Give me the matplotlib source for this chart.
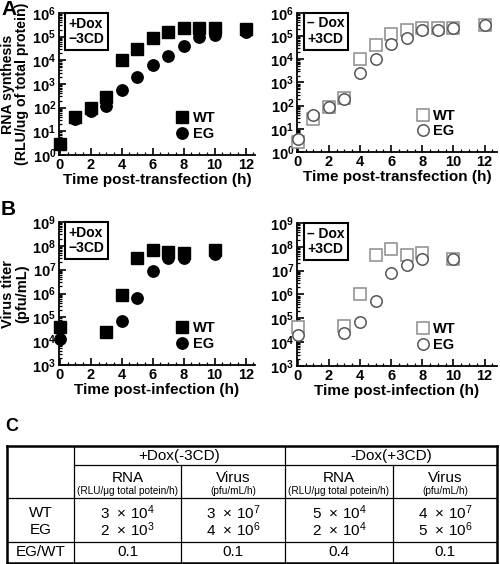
import numpy as np
import matplotlib
matplotlib.use("Agg")
import matplotlib.pyplot as plt
from matplotlib.ticker import MultipleLocator, LogLocator, FuncFormatter, NullFormatter

plt.rcParams['font.family'] = ['Liberation Sans', 'DejaVu Sans']
plt.rcParams['mathtext.default'] = 'regular'

# ---- data ----
rna_t = [0, 1, 2, 3, 4, 5, 6, 7, 8, 9, 10, 12]
rna_wt_dox = [2.8, 42, 93, 290, 1.0e4, 2.9e4, 9.0e4, 1.5e5, 2.4e5, 2.4e5, 2.3e5, 2.2e5]
rna_eg_dox = [2.8, 33, 75, 118, 560, 2.0e3, 6.3e3, 1.6e4, 4.2e4, 9.3e4, 1.2e5, 1.6e5]
rna_wt_nodox = [2.6, 27, 85, 205, 1.0e4, 4.0e4, 1.26e5, 1.9e5, 2.3e5, 2.3e5, 2.3e5, 3.1e5]
rna_eg_nodox = [3.6, 40, 85, 186, 2.7e3, 1.07e4, 4.7e4, 8.5e4, 1.9e5, 1.9e5, 2.3e5, 3.1e5]

vir_t = [0, 3, 4, 5, 6, 7, 8, 10]
vir_wt_dox = [3.8e4, 2.4e4, 8.7e5, 3.2e7, 6.6e7, 5.6e7, 5.0e7, 6.6e7]
vir_eg_dox = [1.25e4, None, 6.8e4, 6.3e5, 9.0e6, 3.0e7, 3.2e7, 4.5e7]
vir_wt_nodox = [4.5e4, 5.0e4, 1.0e6, 4.4e7, 8.0e7, 4.6e7, 5.6e7, 3.2e7]
vir_eg_nodox = [2.0e4, 2.4e4, 6.8e4, 5.5e5, 8.3e6, 1.8e7, 3.0e7, 3.0e7]

cond_dox = "+Dox\n\u22123CD"
cond_nodox = "\u2013 Dox\n+3CD"

tbl_groups = ["+Dox(-3CD)", "-Dox(+3CD)"]
tbl_cols = [("RNA", "(RLU/\u03bcg total potein/h)"), ("Virus", "(pfu/mL/h)"),
            ("RNA", "(RLU/\u03bcg total potein/h)"), ("Virus", "(pfu/mL/h)")]
tbl_rows = ["WT", "EG"]
tbl_mant = [[3, 3, 5, 4], [2, 4, 2, 5]]
tbl_exp = [[4, 7, 4, 7], [3, 6, 4, 6]]
tbl_ratio = ["0.1", "0.1", "0.4", "0.1"]

W, H = 500, 564
fig = plt.figure(figsize=(5, 5.64), dpi=100)


def px_axes(l, r, t, b):
    return fig.add_axes([l / W, 1 - b / H, (r - l) / W, (b - t) / H])


def style(ax, ylo, yhi, xmax, xlabel):
    ax.set_yscale('log')
    ax.set_ylim(ylo, yhi)
    ax.set_xlim(-0.05, xmax)
    for s in ('top', 'right'):
        ax.spines[s].set_visible(False)
    for s in ('left', 'bottom'):
        ax.spines[s].set_linewidth(1.3)
    ax.xaxis.set_major_locator(MultipleLocator(2))
    ax.xaxis.set_minor_locator(MultipleLocator(0.5))
    ax.yaxis.set_major_locator(LogLocator(base=10, numticks=20))
    ax.yaxis.set_minor_locator(LogLocator(base=10, subs=np.arange(2, 10), numticks=20))
    ax.yaxis.set_minor_formatter(NullFormatter())
    ax.yaxis.set_major_formatter(FuncFormatter(lambda v, p: r'$10^{%d}$' % round(np.log10(v))))
    ax.tick_params(which='major', direction='in', length=5, width=1.2, labelsize=10.5, pad=2)
    ax.tick_params(which='minor', direction='in', length=2.5, width=0.9)
    for lb in ax.get_xticklabels() + ax.get_yticklabels():
        lb.set_fontweight('bold')
    ax.set_xlabel(xlabel, fontsize=11, fontweight='bold', labelpad=1)


def cond_box(ax, txt):
    ax.text(0.05, 0.975, txt, transform=ax.transAxes, ha='left', va='top',
            fontsize=10, fontweight='bold', linespacing=1.15,
            bbox=dict(boxstyle='square,pad=0.25', fc='white', ec='black', lw=1.5))


def clean(t, y):
    pts = [(a, b) for a, b in zip(t, y) if b is not None]
    return [p[0] for p in pts], [p[1] for p in pts]


def filled(ax, t, wt, eg):
    ax.plot(*clean(t, wt), 's', ms=8.6, color='black', clip_on=False, label='WT', zorder=3)
    ax.plot(*clean(t, eg), 'o', ms=8.2, color='black', clip_on=False, label='EG', zorder=4)


def hollow(ax, t, wt, eg):
    ax.plot(*clean(t, wt), 's', ms=8.6, mfc='white', mec='#8c8c8c', mew=1.1,
            clip_on=False, label='WT', zorder=3)
    ax.plot(*clean(t, eg), 'o', ms=8.2, mfc='white', mec='#555555', mew=1.1,
            clip_on=False, label='EG', zorder=4)


def legend(ax, x, y):
    ax.legend(loc='lower left', bbox_to_anchor=(x, y), frameon=False,
              prop={'weight': 'bold', 'size': 10.5}, handlelength=0.8,
              handletextpad=0.3, labelspacing=0.1, borderpad=0, borderaxespad=0)


# ---- panel A ----
axA1 = px_axes(59, 255, 13, 155)
filled(axA1, rna_t, rna_wt_dox, rna_eg_dox)
style(axA1, 1, 1e6, 12.6, 'Time post-transfection (h)')
cond_box(axA1, cond_dox)
legend(axA1, 0.6, 0.1)
axA1.set_ylabel('RNA synthesis\n(RLU/ug of total protein)', fontsize=10.2,
                fontweight='bold', linespacing=1.0, labelpad=2)

axA2 = px_axes(297, 497, 13, 152)
hollow(axA2, rna_t, rna_wt_nodox, rna_eg_nodox)
style(axA2, 1, 1e6, 12.8, 'Time post-transfection (h)')
cond_box(axA2, cond_nodox)
legend(axA2, 0.6, 0.1)

# ---- panel B ----
axB1 = px_axes(59, 255, 222, 365)
filled(axB1, vir_t, vir_wt_dox, vir_eg_dox)
style(axB1, 1e3, 1e9, 12.6, 'Time post-infection (h)')
cond_box(axB1, cond_dox)
legend(axB1, 0.6, 0.1)
axB1.set_ylabel('Virus titer\n(pfu/mL)', fontsize=10.5, fontweight='bold',
                linespacing=1.0, labelpad=2)

axB2 = px_axes(297, 497, 223, 366)
hollow(axB2, vir_t, vir_wt_nodox, vir_eg_nodox)
style(axB2, 1e3, 1e9, 12.8, 'Time post-infection (h)')
cond_box(axB2, cond_nodox)
legend(axB2, 0.6, 0.1)

# ---- panel letters + table (C) drawn on a pixel-space overlay ----
ov = fig.add_axes([0, 0, 1, 1], zorder=-1)
ov.set_xlim(0, W)
ov.set_ylim(H, 0)
ov.axis('off')
for letter, (lx, ly) in zip("ABC", [(1, 0), (1, 200), (5, 418)]):
    ov.text(lx, ly, letter, fontsize=15 if letter != 'C' else 13,
            fontweight='bold', ha='left', va='top')

xs = [7, 74, 181, 285, 393, 497]
ys = [445.7, 465, 498, 541.7, 562.7]
lw = 0.9
ov.plot([xs[0], xs[-1]], [ys[0], ys[0]], color='k', lw=1.8)
ov.plot([xs[0], xs[-1]], [ys[-1], ys[-1]], color='k', lw=1.8)
ov.plot([xs[1], xs[-1]], [ys[1], ys[1]], color='k', lw=lw)
for yy in (ys[2], ys[3]):
    ov.plot([xs[0], xs[-1]], [yy, yy], color='k', lw=lw)
ov.plot([xs[0], xs[0]], [ys[0], ys[-1]], color='k', lw=1.8)
ov.plot([xs[-1], xs[-1]], [ys[0], ys[-1]], color='k', lw=1.8)
for xx in (xs[1], xs[3]):
    ov.plot([xx, xx], [ys[0], ys[-1]], color='k', lw=lw)
for xx in (xs[2], xs[4]):
    ov.plot([xx, xx], [ys[1], ys[-1]], color='k', lw=lw)

fs = 11
for g, name in enumerate(tbl_groups):
    ov.text((xs[1 + 2 * g] + xs[3 + 2 * g]) / 2, (ys[0] + ys[1]) / 2 + 0.5, name,
            ha='center', va='center', fontsize=fs)
for c, (main, sub) in enumerate(tbl_cols):
    cx = (xs[c + 1] + xs[c + 2]) / 2
    ov.text(cx, 478, main, ha='center', va='center', fontsize=fs)
    ov.text(cx, 490.5, sub, ha='center', va='center', fontsize=7.2)
row_y = [513, 530]
for r, name in enumerate(tbl_rows):
    ov.text((xs[0] + xs[1]) / 2, row_y[r], name, ha='center', va='center', fontsize=fs)
    for c in range(4):
        cx = (xs[c + 1] + xs[c + 2]) / 2
        ov.text(cx, row_y[r], '%d  \u00d7 10$^{%d}$' % (tbl_mant[r][c], tbl_exp[r][c]),
                ha='center', va='center', fontsize=fs)
ov.text((xs[0] + xs[1]) / 2, 552, "EG/WT", ha='center', va='center', fontsize=fs)
for c, v in enumerate(tbl_ratio):
    ov.text((xs[c + 1] + xs[c + 2]) / 2, 552, v, ha='center', va='center', fontsize=fs)

fig.savefig('out.png', dpi=100)
